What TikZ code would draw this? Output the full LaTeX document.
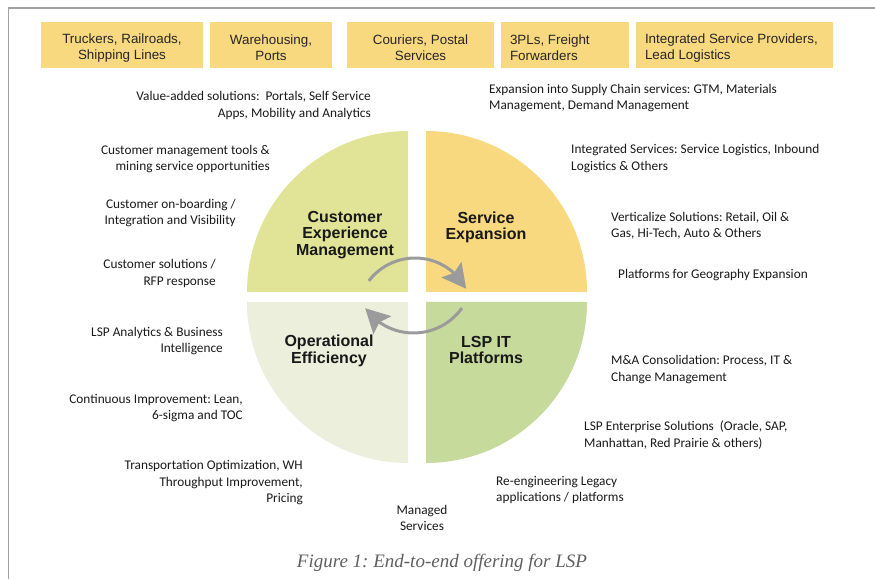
\documentclass[tikz,border=0pt]{standalone}
\usepackage{fontspec}
\setmainfont{Carlito}
\newfontfamily\arialfont{Liberation Sans}
\newfontfamily\capfont{Liberation Serif}
\usetikzlibrary{arrows.meta,bending}
\frenchspacing

\definecolor{boxyellow}{HTML}{F9D97F}
\definecolor{qtl}{HTML}{E1E497}
\definecolor{qtr}{HTML}{F9D97F}
\definecolor{qbl}{HTML}{EBEFDC}
\definecolor{qbr}{HTML}{C5DA9B}
\definecolor{cyclegray}{HTML}{9B9B9B}
\definecolor{framegray}{HTML}{A0A0A0}
\definecolor{captiongray}{HTML}{5F5F5F}

\tikzset{
  bannerbox/.style={fill=boxyellow, minimum height=46pt, inner sep=0pt},
  bannertext/.style={inner xsep=0pt, inner ysep=0pt, yshift=-3pt,
    font=\arialfont\fontsize{13.4}{16}\selectfont, text=black!85},
  quadlabel/.style={font=\arialfont\bfseries\fontsize{16}{16.5}\selectfont, align=center,
    text=black!90, inner sep=0pt},
  note/.style={font=\fontsize{13.3}{16.5}\selectfont, inner sep=0pt, text=black!90},
  noteL/.style={note, anchor=west, align=left},
  noteR/.style={note, anchor=east, align=right},
  cyclearrow/.style={draw=cyclegray, line width=3pt,
    -{Stealth[length=24pt, width=25pt, inset=4pt]}},
}

\begin{document}
\begin{tikzpicture}[x=1pt, y=1pt]
\useasboundingbox (0,0) rectangle (875,579);

% page frame
\draw[framegray, line width=1.5pt] (8.5,0) -- (8.5,571) -- (875,571);

% provider categories
\node[bannerbox, minimum width=162pt] (truck) at (122,534) {};
\node[bannerbox, minimum width=122pt] (ware) at (271,534) {};
\node[bannerbox, minimum width=147pt] (cour) at (420.5,534) {};
\node[bannerbox, minimum width=128pt] (tpl) at (565,534) {};
\node[bannerbox, minimum width=197pt] (isp) at (734.5,534) {};
\node[bannertext, align=center] (trucktxt) at (truck.center) {Truckers, Railroads,\\Shipping Lines};
\node[bannertext, align=center] (waretxt) at (ware.center) {Warehousing,\\Ports};
\node[bannertext, align=center] (courtxt) at (cour.center) {Couriers, Postal\\Services};
\node[bannertext, align=left, anchor=west] (tpltxt) at ([xshift=9pt]tpl.west) {3PLs, Freight\\Forwarders};
\node[bannertext, align=left, anchor=west] (isptxt) at ([xshift=9pt]isp.west) {Integrated Service Providers,\\Lead Logistics};

% four quarter sectors
\fill[qtl] (408,287) -- ++(0,161) arc[start angle=90, end angle=180, radius=161pt] -- cycle;
\fill[qtr] (426,287) -- ++(161,0) arc[start angle=0, end angle=90, radius=161pt] -- cycle;
\fill[qbl] (408,277) -- ++(-161,0) arc[start angle=180, end angle=270, radius=161pt] -- cycle;
\fill[qbr] (426,277) -- ++(0,-161) arc[start angle=270, end angle=360, radius=161pt] -- cycle;

\node[quadlabel] (cem) at (345,344) {Customer\\Experience\\Management};
\node[quadlabel] (se) at (486,351.5) {Service\\Expansion};
\node[quadlabel] (oe) at (329,228) {Operational\\Efficiency};
\node[quadlabel] (lsp) at (486,229) {LSP IT\\Platforms};

% cycle arrows
\coordinate (upc) at (415,263);
\coordinate (loc) at (413.5,305.5);
\draw[cyclearrow] ([shift={(142.7:58pt)}]upc) arc[start angle=142.7, end angle=28, radius=58pt];
\draw[cyclearrow] ([shift={(-35.5:59.5pt)}]loc) arc[start angle=-35.5, end angle=-144.3, radius=59.5pt];

% left-hand offerings
\node[noteR] (n1) at (371,473.5) {Value-added solutions:\ \ Portals, Self Service\\Apps, Mobility and Analytics};
\node[noteR] (n2) at (270,420) {Customer management tools \&\\mining service opportunities};
\node[noteR] (n3) at (236,366) {Customer on-boarding /\\Integration and Visibility};
\node[noteR] (n4) at (216,305.5) {Customer solutions /\\RFP response};
\node[noteR] (n5) at (223,238) {LSP Analytics \& Business\\Intelligence};
\node[noteR] (n6) at (243,171) {Continuous Improvement: Lean,\\6-sigma and TOC};
\node[noteR] (n7) at (303,96) {Transportation Optimization, WH\\Throughput Improvement,\\Pricing};
\node[note, align=center] (n8) at (422,61) {Managed\\Services};

% right-hand offerings
\node[noteL] (n9) at (489,481) {Expansion into Supply Chain services: GTM, Materials\\Management, Demand Management};
\node[noteL] (n10) at (571,420.5) {Integrated Services: Service Logistics, Inbound\\Logistics \& Others};
\node[noteL] (n11) at (611,353.5) {Verticalize Solutions: Retail, Oil \&\\Gas, Hi-Tech, Auto \& Others};
\node[noteL] (n12) at (618,304) {Platforms for Geography Expansion};
\node[noteL] (n13) at (611,209.5) {M\&A Consolidation: Process, IT \&\\Change Management};
\node[noteL] (n14) at (584,144) {LSP Enterprise Solutions\ \ (Oracle, SAP,\\Manhattan, Red Prairie \& others)};
\node[noteL] (n15) at (496,89) {Re-engineering Legacy\\applications / platforms};

% caption
\node[font=\capfont\itshape\fontsize{19}{22}\selectfont, text=captiongray, inner sep=0pt] (cap) at (442,16) {Figure 1: End-to-end offering for LSP};
\end{tikzpicture}
\end{document}
